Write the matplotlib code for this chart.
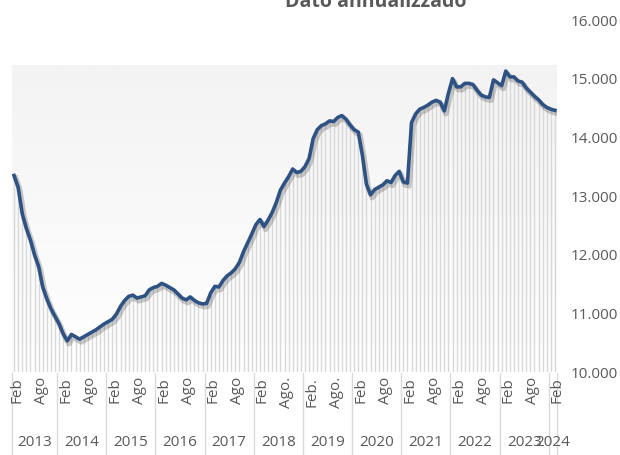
import matplotlib
matplotlib.use("Agg")
import matplotlib.pyplot as plt
import matplotlib.patheffects as pe
import matplotlib.transforms as mtransforms
from matplotlib.colors import LinearSegmentedColormap
from matplotlib.ticker import FuncFormatter, FixedLocator
import numpy as np

# Monthly values, Feb 2013 .. Feb 2024
values = [
    13350, 13150, 12700, 12450, 12250, 12000, 11800, 11450, 11250, 11080, 10950,          # 2013 (Feb-Dec)
    10820, 10650, 10530, 10640, 10600, 10560, 10600, 10640, 10680, 10720, 10770, 10820,   # 2014
    10860, 10900, 10990, 11120, 11220, 11290, 11310, 11260, 11280, 11300, 11400, 11440,   # 2015
    11460, 11510, 11480, 11440, 11400, 11330, 11260, 11230, 11280, 11220, 11180, 11160,   # 2016
    11170, 11350, 11460, 11450, 11560, 11640, 11690, 11760, 11870, 12050, 12200, 12350,   # 2017
    12510, 12600, 12480, 12590, 12720, 12890, 13100, 13220, 13330, 13460, 13400, 13420,   # 2018
    13500, 13640, 13980, 14130, 14200, 14230, 14280, 14270, 14340, 14370, 14310, 14210,   # 2019
    14130, 14090, 13700, 13200, 13020, 13110, 13150, 13190, 13260, 13230, 13350, 13420,   # 2020
    13240, 13220, 14250, 14400, 14480, 14510, 14550, 14600, 14630, 14600, 14450, 14750,   # 2021
    15000, 14860, 14860, 14920, 14920, 14900, 14800, 14720, 14690, 14680, 14980, 14930,   # 2022
    14880, 15130, 15030, 15030, 14960, 14940, 14840, 14770, 14700, 14640, 14560, 14510,   # 2023
    14480, 14460,                                                                         # 2024 (Jan-Feb)
]
month_labels = ["Feb", "Ago", "Feb", "Ago", "Feb", "Ago", "Feb", "Ago", "Feb", "Ago",
                "Feb", "Ago.", "Feb.", "Ago.", "Feb", "Ago", "Feb", "Ago", "Feb", "Ago",
                "Feb", "Ago", "Feb"]
years = ["2013", "2014", "2015", "2016", "2017", "2018", "2019", "2020",
         "2021", "2022", "2023", "2024"]
months_in_year = [11, 12, 12, 12, 12, 12, 12, 12, 12, 12, 12, 2]
title = "Dato annualizzado"
y_ticks = [10000, 11000, 12000, 13000, 14000, 15000, 16000]

W, H = 620, 455
fig = plt.figure(figsize=(W / 100, H / 100), dpi=100)
ax = fig.add_axes([12 / W, 1 - 372 / H, (557 - 12) / W, (372 - 20) / H])

n = len(values)
x = np.arange(n)
txt_col = "#595959"
font = "Open Sans"

# background gradient of the plot area
cmap = LinearSegmentedColormap.from_list("bg", ["#ffffff", "#f3f3f3"])
grad = np.linspace(0, 1, 256).reshape(-1, 1)
ax.imshow(grad, extent=[-0.5, n - 0.5, 10000, 15230], origin="lower",
          aspect="auto", cmap=cmap, zorder=0)

# drop lines
ax.vlines(x, 10000, values, colors="#d8d8d8", linewidth=1.0, zorder=1)

# main line with shadow
ax.plot(x, values, color="#2e5283", linewidth=2.6, solid_joinstyle="round",
        zorder=3,
        path_effects=[pe.SimpleLineShadow(offset=(1.2, -2.0), shadow_color="#555555",
                                          alpha=0.3, linewidth=4),
                      pe.Normal()])

ax.set_xlim(-0.5, n - 0.5)
ax.set_ylim(10000, 16000)
for s in ax.spines.values():
    s.set_visible(False)
ax.set_facecolor("none")

ax.yaxis.tick_right()
ax.yaxis.set_major_locator(FixedLocator(y_ticks))
ax.yaxis.set_major_formatter(FuncFormatter(lambda v, p: f"{v:,.0f}".replace(",", ".")))
ax.tick_params(axis="y", length=0, pad=10, labelsize=11, labelcolor=txt_col)
for lab in ax.get_yticklabels():
    lab.set_fontfamily(font)
ax.set_xticks([])

# bottom labels
tr = mtransforms.blended_transform_factory(ax.transData, fig.transFigure)
def fy(px):
    return 1 - px / H

for k, lab in enumerate(month_labels):
    ax.text(k * 6 + 0.6, fy(377), lab, transform=tr, rotation=90, ha="center", va="top",
            fontsize=11, color=txt_col, family=font, clip_on=False)

start = -0.5
bounds = [start]
for yr, m in zip(years, months_in_year):
    end = start + m
    ax.text((start + end) / 2, fy(442), yr, transform=tr, ha="center", va="center",
            fontsize=11, color=txt_col, family=font, clip_on=False)
    start = end
    bounds.append(end)

for b in bounds:
    ax.plot([b, b], [fy(373), fy(455)], transform=tr, color="#d9d9d9",
            linewidth=1.0, clip_on=False)

fig.text(376 / W, fy(7), title, ha="center", va="baseline", fontsize=14,
         fontweight="bold", color=txt_col, family=font)

fig.savefig("out.png", dpi=100)
